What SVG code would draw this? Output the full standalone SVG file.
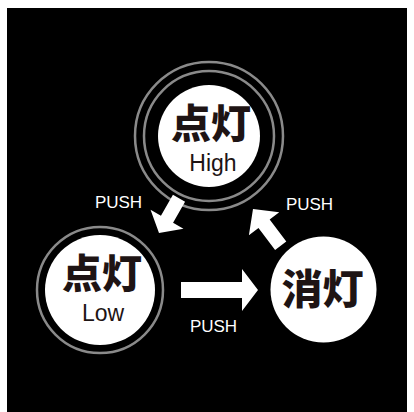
<svg xmlns="http://www.w3.org/2000/svg" width="414" height="412" viewBox="0 0 414 412">
  <style>
    .disc { fill: #ffffff; }
    .ring { fill: none; stroke: #8a8a8a; stroke-width: 2.5; }
    .kanji { font-family: "Noto Sans CJK JP", "Noto Sans CJK SC", sans-serif; font-weight: 900; fill: #1e1414; text-anchor: middle; }
    .sub { font-family: "Liberation Sans", Arial, sans-serif; fill: #1e1414; text-anchor: middle; }
    .push { font-family: "Liberation Sans", Arial, sans-serif; font-size: 17px; fill: #ffffff; text-anchor: middle; }
    .arrow { fill: #ffffff; }
  </style>
  <defs>
    <polygon id="arrowShape" points="0,0 -16,-19 -16,-7 -40,-7 -40,7 -16,7 -16,19"/>
  </defs>
  <rect x="0" y="0" width="414" height="412" fill="#ffffff"/>
  <rect x="7" y="8" width="400" height="404" fill="#000000"/>

  <g id="node-high">
    <circle class="ring" cx="209" cy="136" r="74"/>
    <circle class="ring" cx="209" cy="136" r="65"/>
    <circle class="disc" cx="209" cy="136" r="51"/>
    <text class="kanji" x="211" y="138" font-size="40">点灯</text>
    <text class="sub" x="213" y="171" font-size="23">High</text>
  </g>

  <g id="node-low">
    <circle class="ring" cx="100" cy="290" r="63"/>
    <circle class="disc" cx="100" cy="290" r="55"/>
    <text class="kanji" x="102" y="288" font-size="40">点灯</text>
    <text class="sub" x="103" y="321" font-size="23">Low</text>
  </g>

  <g id="node-off">
    <circle class="disc" cx="323.5" cy="289.5" r="53"/>
    <text class="kanji" x="322.5" y="304" font-size="41">消灯</text>
  </g>

  <g id="connectors">
    <use href="#arrowShape" class="arrow" transform="translate(159,233) rotate(120)"/>
    <use href="#arrowShape" class="arrow" transform="translate(253,209) rotate(233) scale(1.15,1)"/>
    <polygon class="arrow" points="258,290 242,269 242,282 181,282 181,298 242,298 242,311"/>
    <text class="push" x="118.5" y="208">PUSH</text>
    <text class="push" x="309.5" y="210">PUSH</text>
    <text class="push" x="213.5" y="332">PUSH</text>
  </g>
</svg>
